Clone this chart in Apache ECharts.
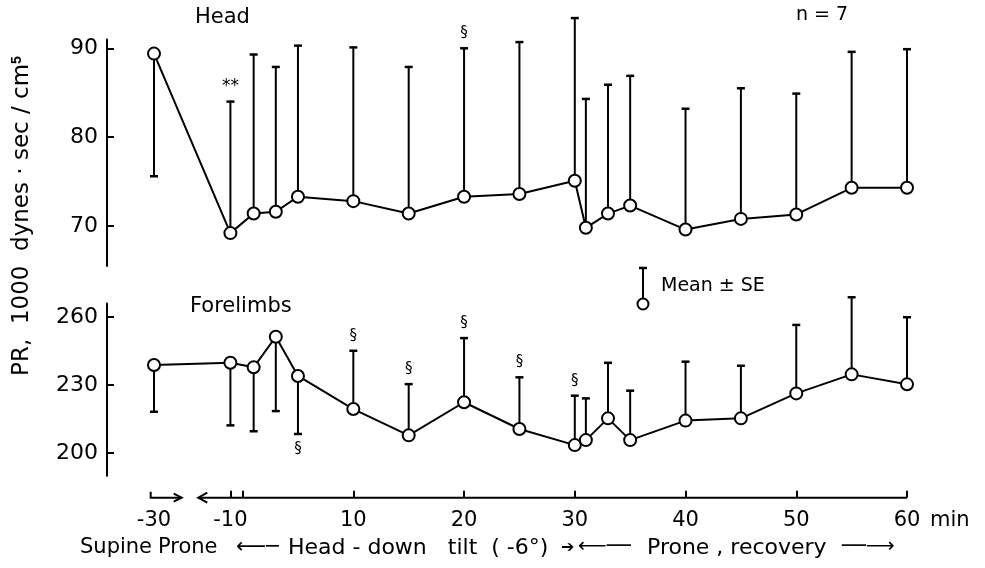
<!DOCTYPE html>
<html lang="en">
  <head>
    <meta charset="utf-8" />
    <title>PR head / forelimbs</title>
    <script src="https://cdn.jsdelivr.net/npm/echarts@6/dist/echarts.min.js"></script>
    <style>
      html, body { margin: 0; padding: 0; background: #fff; }
      #chart { width: 985px; height: 568px; }
    </style>
  </head>
  <body>
    <div id="chart"></div>
    <script>
      // time points, min (supine -30, prone -10, tilt 0..30, prone recovery 30..60)
      const minutes = [-30, -10, 1, 3, 5, 10, 15, 20, 25, 30, 31, 33, 35, 40, 45, 50, 55, 60]

      const headMean = [89.4, 69.2, 71.4, 71.6, 73.3, 72.8, 71.4, 73.3, 73.6, 75.1, 69.8, 71.4, 72.3, 69.6, 70.8, 71.3, 74.3, 74.3]
      const headBarEnd = [75.6, 84.0, 89.3, 87.9, 90.3, 90.1, 87.9, 90.0, 90.7, 93.4, 84.3, 85.9, 86.9, 83.2, 85.5, 84.9, 89.6, 89.9]
      const headMarks = ['', '**', '', '', '', '', '', '§', '', '', '', '', '', '', '', '', '', '']

      const limbMean = [238.8, 239.8, 237.8, 251.3, 234.0, 219.4, 207.8, 222.4, 210.6, 203.5, 205.7, 215.3, 205.7, 214.3, 215.3, 226.3, 234.7, 230.3]
      const limbBarEnd = [218.2, 212.2, 209.6, 218.5, 208.4, 245.1, 230.4, 250.7, 233.4, 225.3, 224.1, 239.8, 227.5, 240.3, 238.5, 256.5, 268.7, 259.9]
      const limbMarks = ['', '', '', '', '§', '§', '§', '§', '§', '§', '', '', '', '', '', '', '', '']

      const headTicks = [70, 80, 90]
      const limbTicks = [200, 230, 260]
      const xLabelMinutes = [-30, -10, 10, 20, 30, 40, 50, 60]
      const xTickMinutes = [-10, 0, 10, 20, 30, 40, 50, 60]

      // broken time axis: the pre-tilt period is squeezed
      function plotX (t) {
        if (t >= 0) return t
        if (t >= -10) return t * 0.11
        return -1.1 + (t + 10) * 0.345
      }

      const FONT = 'DejaVu Sans'
      const X_MIN = -8
      const X_MAX = 60

      function barSeries (mean, ends, marks, gridIdx) {
        return {
          type: 'custom',
          xAxisIndex: gridIdx,
          yAxisIndex: gridIdx,
          clip: false,
          z: 2,
          data: minutes.map((t, i) => [plotX(t), mean[i], ends[i]]),
          renderItem: function (params, api) {
            const p0 = api.coord([api.value(0), api.value(1)])
            const p1 = api.coord([api.value(0), api.value(2)])
            const up = p1[1] < p0[1]
            const children = [
              { type: 'line', shape: { x1: p0[0], y1: p0[1], x2: p1[0], y2: p1[1] }, style: { stroke: '#000', lineWidth: 2 } },
              { type: 'line', shape: { x1: p1[0] - 4, y1: p1[1], x2: p1[0] + 4, y2: p1[1] }, style: { stroke: '#000', lineWidth: 2.5 } }
            ]
            const mark = marks[params.dataIndex]
            if (mark) {
              children.push({
                type: 'text',
                style: {
                  text: mark, x: p1[0], y: p1[1] + (up ? -15 : 15),
                  align: 'center', verticalAlign: 'middle',
                  font: (mark === '**' ? '17px ' : '15px ') + FONT, fill: '#000'
                }
              })
            }
            return { type: 'group', children: children }
          }
        }
      }

      function meanSeries (mean, gridIdx) {
        return {
          type: 'line',
          xAxisIndex: gridIdx,
          yAxisIndex: gridIdx,
          z: 3,
          clip: false,
          data: minutes.map((t, i) => [plotX(t), mean[i]]),
          symbol: 'circle',
          symbolSize: 12,
          itemStyle: { color: '#fff', borderColor: '#000', borderWidth: 2 },
          lineStyle: { color: '#000', width: 2 },
          animation: false
        }
      }

      const yAxisBase = {
        offset: 47,
        axisLine: { show: true, onZero: false, lineStyle: { color: '#000', width: 2 } },
        axisTick: { show: true, inside: true, length: 7, lineStyle: { color: '#000', width: 2 } },
        axisLabel: { color: '#000', fontSize: 22, fontFamily: FONT, margin: 9 },
        splitLine: { show: false }
      }

      const labelMap = {}
      xLabelMinutes.forEach(m => { labelMap[plotX(m).toFixed(3)] = String(m) })

      const txt = (text, left, top, size) => ({
        type: 'text', left: left, top: top, style: { text: text, font: size + 'px ' + FONT, fill: '#000' }
      })

      const chart = echarts.init(document.getElementById('chart'), null, { renderer: 'canvas' })
      chart.setOption({
        backgroundColor: '#fff',
        animation: false,
        textStyle: { fontFamily: FONT },
        grid: [
          { left: 154, right: 78, top: 39.4, bottom: 302 },
          { left: 154, right: 78, top: 303.4, bottom: 92.3 }
        ],
        xAxis: [
          { type: 'value', gridIndex: 0, min: X_MIN, max: X_MAX, show: false },
          {
            type: 'value', gridIndex: 1, min: X_MIN, max: X_MAX, offset: 22,
            axisLine: { show: false, onZero: false },
            splitLine: { show: false },
            axisTick: {
              show: true, inside: true, length: 7,
              customValues: xTickMinutes.map(plotX),
              lineStyle: { color: '#000', width: 2 }
            },
            axisLabel: {
              color: '#000', fontSize: 21, fontFamily: FONT, margin: 12,
              customValues: xLabelMinutes.map(plotX),
              formatter: v => labelMap[v.toFixed(3)] || ''
            }
          }
        ],
        yAxis: [
          Object.assign({}, yAxisBase, {
            type: 'value', gridIndex: 0, min: 65.5, max: 91,
            axisTick: Object.assign({}, yAxisBase.axisTick, { customValues: headTicks }),
            axisLabel: Object.assign({}, yAxisBase.axisLabel, { customValues: headTicks })
          }),
          Object.assign({}, yAxisBase, {
            type: 'value', gridIndex: 1, min: 190, max: 266,
            axisTick: Object.assign({}, yAxisBase.axisTick, { customValues: limbTicks }),
            axisLabel: Object.assign({}, yAxisBase.axisLabel, { customValues: limbTicks })
          })
        ],
        series: [
          barSeries(headMean, headBarEnd, headMarks, 0),
          meanSeries(headMean, 0),
          barSeries(limbMean, limbBarEnd, limbMarks, 1),
          meanSeries(limbMean, 1),
          {
            // time axis line with the phase arrows
            type: 'custom',
            xAxisIndex: 1,
            yAxisIndex: 1,
            clip: false,
            silent: true,
            data: [[0, 190]],
            renderItem: function (params, api) {
              const y = api.coord([0, 190])[1] + 22
              const a = api.coord([-4.0, 190])[0]
              const b = api.coord([60, 190])[0]
              const s0 = api.coord([-8.3, 190])[0]
              const s1 = api.coord([-5.5, 190])[0]
              const st = { stroke: '#000', lineWidth: 2, fill: null }
              return {
                type: 'group',
                children: [
                  { type: 'line', shape: { x1: a, y1: y, x2: b, y2: y }, style: st },
                  { type: 'polyline', shape: { points: [[a + 9, y - 5], [a, y], [a + 9, y + 5]] }, style: st },
                  { type: 'polyline', shape: { points: [[s0, y - 6], [s0, y], [s1, y]] }, style: st },
                  { type: 'polyline', shape: { points: [[s1 - 8, y - 4], [s1, y], [s1 - 8, y + 4]] }, style: st }
                ]
              }
            }
          }
        ],
        graphic: [
          txt('Head', 195, 7, 21),
          txt('Forelimbs', 190, 296, 21),
          txt('n = 7', 796, 6, 19),
          txt('min', 930, 510, 21),
          {
            type: 'text', x: 22, y: 216, rotation: Math.PI / 2,
            style: {
              text: 'PR,  1000  dynes · sec / cm{s|5}',
              font: '23px ' + FONT, fill: '#000', align: 'center', verticalAlign: 'middle',
              rich: { s: { fontSize: 14, fontWeight: 'bold', verticalAlign: 'top', padding: [0, 0, 10, 0] } }
            }
          },
          // legend: mean +/- SE
          { type: 'line', shape: { x1: 643, y1: 268, x2: 643, y2: 300 }, style: { stroke: '#000', lineWidth: 2 } },
          { type: 'line', shape: { x1: 639, y1: 268, x2: 647, y2: 268 }, style: { stroke: '#000', lineWidth: 2.5 } },
          { type: 'circle', shape: { cx: 643, cy: 304, r: 5.5 }, style: { fill: '#fff', stroke: '#000', lineWidth: 2 } },
          txt('Mean ± SE', 661, 277, 19),
          // phase caption
          txt('Supine', 80, 537, 21),
          txt('Prone', 158, 537, 21),
          txt('⟵─', 236, 537, 21),
          txt('Head - down   tilt  ( -6°)', 288, 537, 22),
          txt('➔', 561, 540, 16),
          txt('⟵──', 578, 537, 20),
          txt('Prone , recovery', 647, 537, 22),
          txt('──⟶', 842, 537, 20)
        ]
      })
    </script>
  </body>
</html>
